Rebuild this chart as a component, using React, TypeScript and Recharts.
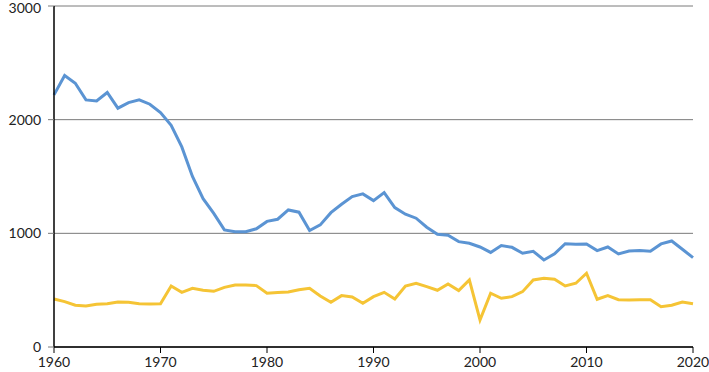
import React from "react"
import { LineChart, Line, XAxis, YAxis, CartesianGrid } from "recharts"

// years 1960..2020
const years = [
  1960, 1961, 1962, 1963, 1964, 1965, 1966, 1967, 1968, 1969,
  1970, 1971, 1972, 1973, 1974, 1975, 1976, 1977, 1978, 1979,
  1980, 1981, 1982, 1983, 1984, 1985, 1986, 1987, 1988, 1989,
  1990, 1991, 1992, 1993, 1994, 1995, 1996, 1997, 1998, 1999,
  2000, 2001, 2002, 2003, 2004, 2005, 2006, 2007, 2008, 2009,
  2010, 2011, 2012, 2013, 2014, 2015, 2016, 2017, 2018, 2019,
  2020,
]

const blueSeries = [
  2218, 2388, 2321, 2174, 2165, 2239, 2101, 2150, 2174, 2136,
  2062, 1950, 1760, 1500, 1305, 1175, 1030, 1015, 1015, 1040,
  1105, 1124, 1206, 1186, 1024, 1074, 1182, 1256, 1323, 1347,
  1288, 1358, 1226, 1168, 1133, 1054, 992, 983, 927, 913,
  880, 832, 892, 877, 825, 842, 766, 819, 909, 904,
  907, 848, 880, 819, 845, 848, 842, 907, 933, 860,
  786,
]

const yellowSeries = [
  422, 399, 367, 361, 376, 381, 396, 393, 381, 378,
  381, 537, 481, 516, 499, 490, 525, 546, 546, 540,
  473, 480, 484, 504, 516, 449, 393, 452, 440, 384,
  443, 481, 422, 537, 561, 531, 499, 555, 496, 590,
  238, 473, 429, 443, 487, 590, 605, 596, 537, 561,
  649, 420, 452, 416, 414, 416, 416, 355, 367, 396,
  381,
]

const xTicks = [1960, 1970, 1980, 1990, 2000, 2010, 2020]
const yTicks = [0, 1000, 2000, 3000]

const data = years.map((year, i) => ({
  year,
  blue: blueSeries[i],
  yellow: yellowSeries[i],
}))

const tickStyle = { fontFamily: "Lato, sans-serif", fontSize: 14, fill: "#222" }

export default function App() {
  return (
    <div style={{ position: "absolute", left: 0, top: 0, background: "#fff" }}>
      <LineChart
        width={709}
        height={372}
        data={data}
        margin={{ top: 6, right: 16, bottom: 0, left: 0 }}
      >
        <CartesianGrid horizontal vertical={false} stroke="#7a7a7a" />
        <XAxis
          dataKey="year"
          type="number"
          domain={[1960, 2020]}
          ticks={xTicks}
          height={25}
          tick={tickStyle}
          tickSize={6}
          tickMargin={4}
          axisLine={{ stroke: "#000", strokeWidth: 1.5 }}
          tickLine={{ stroke: "#000" }}
        />
        <YAxis
          type="number"
          domain={[0, 3000]}
          ticks={yTicks}
          width={54}
          tick={tickStyle}
          tickSize={6}
          tickMargin={7}
          axisLine={{ stroke: "#000", strokeWidth: 1.5 }}
          tickLine={{ stroke: "#7a7a7a" }}
        />
        <Line
          type="linear"
          dataKey="yellow"
          stroke="#f5c435"
          strokeWidth={3}
          dot={false}
          isAnimationActive={false}
        />
        <Line
          type="linear"
          dataKey="blue"
          stroke="#5b94d3"
          strokeWidth={3}
          dot={false}
          isAnimationActive={false}
        />
      </LineChart>
    </div>
  )
}
